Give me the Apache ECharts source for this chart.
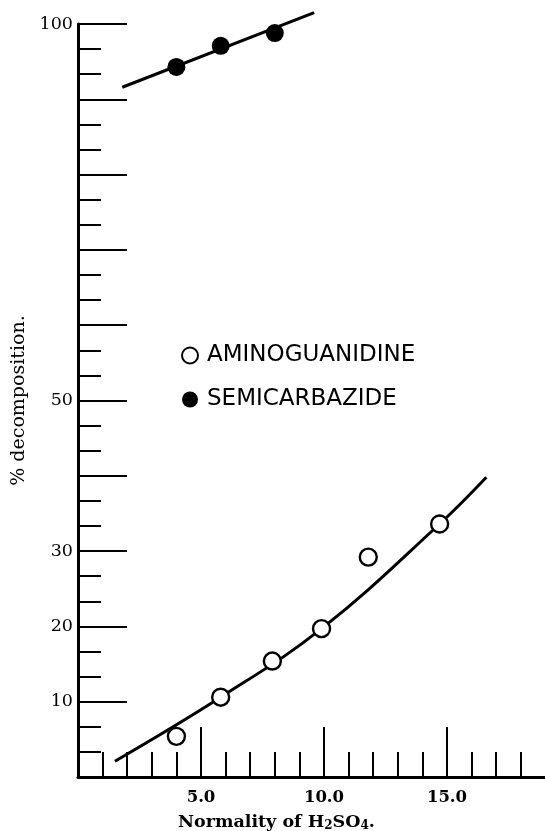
<!DOCTYPE html>
<html>
<head>
<meta charset="utf-8">
<script src="https://cdn.jsdelivr.net/npm/echarts@6/dist/echarts.min.js"></script>
<style>
html,body{margin:0;padding:0;background:#fff;}
#chart{width:545px;height:831px;}
</style>
</head>
<body>
<div id="chart"></div>
<script>
// Data
const seriesNames = ['AMINOGUANIDINE', 'SEMICARBAZIDE'];
const aminoguanidinePoints = [[4.0, 5.4], [5.8, 10.6], [7.9, 15.4], [9.9, 19.7], [11.8, 29.2], [14.7, 33.6]];
const aminoguanidineCurve = [[1.5, 2.1], [5.8, 10.6], [9.9, 19.7], [14.7, 33.6], [16.6, 39.8]];
const semicarbazidePoints = [[4.0, 94.3], [5.8, 97.1], [8.0, 98.8]];
const semicarbazideLine = [[1.8, 91.6], [9.6, 101.5]];
const yLabelValues = [10, 20, 30, 50, 100];
const xLabelValues = [5, 10, 15];

const serif = '"DejaVu Serif", serif';
const sans = '"DejaVu Sans", sans-serif';

const chart = echarts.init(document.getElementById('chart'), null, {renderer: 'canvas'});
chart.setOption({
  backgroundColor: '#ffffff',
  animation: false,
  title: {
    text: '{a|Normality of H}{s|2}{a|SO}{s|4}{a|.}',
    left: 178,
    top: 812,
    padding: 0,
    textStyle: {
      rich: {
        a: {fontFamily: serif, fontWeight: 'bold', fontSize: 17.5, color: '#000'},
        s: {fontFamily: serif, fontWeight: 'bold', fontSize: 12, color: '#000', padding: [8, 0, 0, 0]}
      }
    }
  },
  legend: {
    orient: 'vertical',
    left: 176,
    top: 339,
    itemWidth: 16,
    itemHeight: 16,
    itemGap: 21,
    data: [
      {name: seriesNames[0], icon: 'circle'},
      {name: seriesNames[1], icon: 'circle'}
    ],
    textStyle: {fontFamily: sans, fontSize: 23, color: '#000', padding: [0, 0, 0, 4]}
  },
  grid: {left: 78, top: 24, width: 492, bottom: 54, containLabel: false, outerBoundsMode: 'none'},
  xAxis: {
    type: 'value',
    min: 0,
    max: 20,
    interval: 5,
    axisLine: {show: true, onZero: false, lineStyle: {color: '#000', width: 3}},
    axisTick: {show: true, inside: true, length: 50, lineStyle: {color: '#000', width: 2}},
    minorTick: {show: true, splitNumber: 5, length: 25, lineStyle: {color: '#000', width: 2}},
    splitLine: {show: false},
    minorSplitLine: {show: false},
    axisLabel: {
      margin: 12,
      fontFamily: serif,
      fontWeight: 'bold',
      fontSize: 16.5,
      color: '#000',
      formatter: function (v) { return xLabelValues.indexOf(v) >= 0 ? v.toFixed(1) : ''; }
    }
  },
  yAxis: {
    type: 'value',
    min: 0,
    max: 100,
    interval: 10,
    name: '% decomposition.',
    nameLocation: 'middle',
    nameGap: 42,
    nameTextStyle: {fontFamily: serif, fontSize: 19, color: '#000'},
    axisLine: {show: true, onZero: false, lineStyle: {color: '#000', width: 3}},
    axisTick: {show: true, inside: true, length: 49, lineStyle: {color: '#000', width: 2}},
    minorTick: {show: true, splitNumber: 3, length: 23, lineStyle: {color: '#000', width: 2}},
    splitLine: {show: false},
    minorSplitLine: {show: false},
    axisLabel: {
      margin: 5,
      fontFamily: serif,
      fontSize: 17.5,
      color: '#000',
      formatter: function (v) { return yLabelValues.indexOf(v) >= 0 ? String(v) : ''; }
    }
  },
  series: [
    {
      name: 'curveA',
      type: 'line',
      data: aminoguanidineCurve,
      smooth: 0.4,
      showSymbol: false,
      clip: false,
      lineStyle: {color: '#000', width: 3},
      z: 2
    },
    {
      name: 'lineS',
      type: 'line',
      data: semicarbazideLine,
      showSymbol: false,
      clip: false,
      lineStyle: {color: '#000', width: 3},
      z: 2
    },
    {
      name: seriesNames[0],
      type: 'scatter',
      data: aminoguanidinePoints,
      symbol: 'circle',
      symbolSize: 17,
      clip: false,
      itemStyle: {color: '#fff', borderColor: '#000', borderWidth: 2.4, opacity: 1},
      z: 3
    },
    {
      name: seriesNames[1],
      type: 'scatter',
      data: semicarbazidePoints,
      symbol: 'circle',
      symbolSize: 18,
      clip: false,
      itemStyle: {color: '#000', opacity: 1},
      z: 3
    }
  ]
});
</script>
</body>
</html>
